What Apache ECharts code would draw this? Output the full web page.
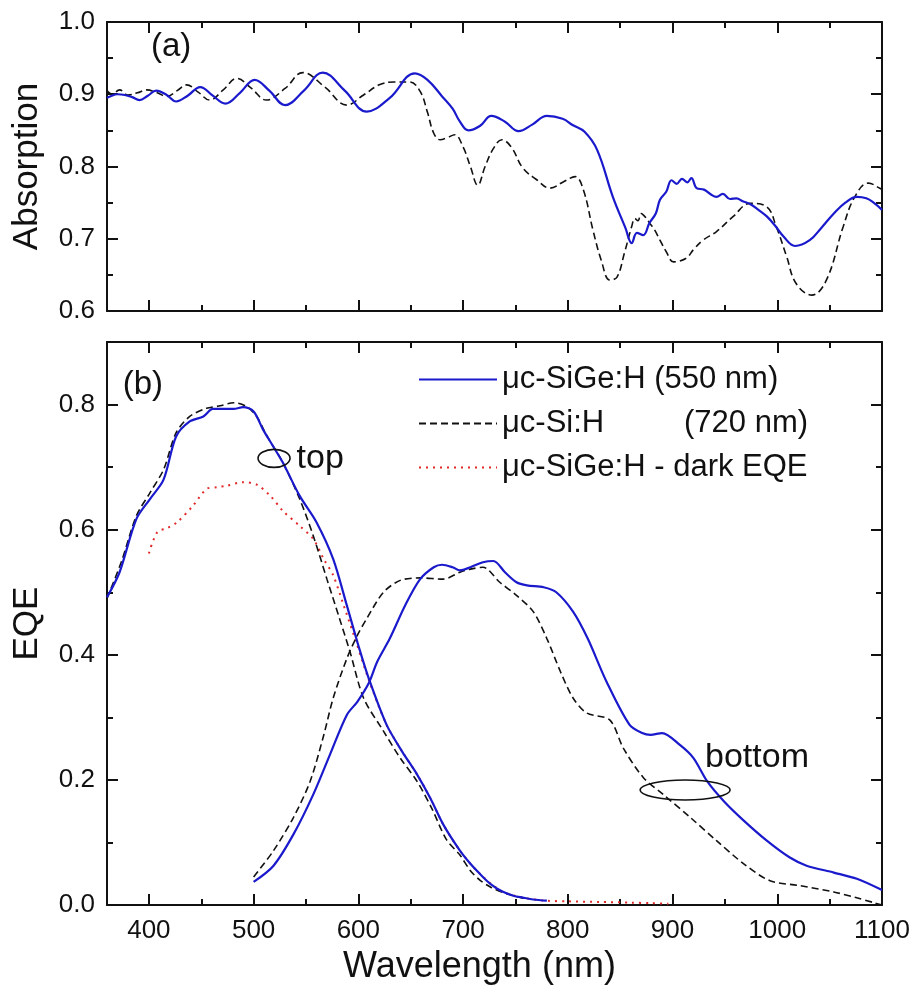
<!DOCTYPE html>
<html><head><meta charset="utf-8">
<script src="https://cdn.jsdelivr.net/npm/echarts@6/dist/echarts.min.js"></script>
<style>html,body{margin:0;padding:0;background:#fff}#c{width:914px;height:990px}</style>
</head><body><div id="c"></div>
<script>
// ---------- Panel (a): absorption ----------
const absWlSiGe = [360,363,370,377,384,391,399,407,417,426,437,449,461,473,487,501,515,530,548,566,587,608,630,654,666,680,690,697,705,716,727,740,753,766,780,795,805,816,828,843,855,861,866,872,878,884,888,894,899,904,909,914,918,923,930,936,942,948,955,961,967,974,982,990,998,1006,1017,1031,1042,1054,1065,1076,1085,1092,1100];
const absSiGe   = [0.895,0.897,0.900,0.899,0.896,0.892,0.898,0.905,0.899,0.890,0.898,0.910,0.898,0.887,0.902,0.920,0.905,0.885,0.905,0.930,0.905,0.876,0.895,0.929,0.920,0.897,0.880,0.862,0.850,0.856,0.870,0.862,0.849,0.858,0.870,0.866,0.857,0.848,0.823,0.758,0.715,0.694,0.708,0.705,0.722,0.735,0.754,0.765,0.781,0.776,0.783,0.778,0.784,0.770,0.768,0.762,0.758,0.762,0.755,0.756,0.752,0.748,0.740,0.731,0.718,0.703,0.690,0.698,0.715,0.735,0.750,0.758,0.756,0.750,0.740];
const absWlSi = [360,365,372,380,389,398,408,417,427,436,447,458,471,484,498,512,530,547,568,589,605,620,634,649,659,666,672,678,685,692,700,707,714,721,729,737,746,757,770,783,796,807,815,824,832,840,847,854,861,864,867,870,874,878,883,888,894,901,913,920,929,942,958,974,990,999,1009,1018,1033,1047,1063,1074,1087,1098,1100];
const absSi   = [0.905,0.900,0.906,0.899,0.902,0.906,0.902,0.897,0.905,0.913,0.903,0.892,0.906,0.922,0.908,0.892,0.908,0.930,0.910,0.885,0.899,0.913,0.917,0.917,0.904,0.875,0.846,0.837,0.840,0.844,0.827,0.800,0.774,0.800,0.825,0.837,0.827,0.798,0.782,0.770,0.779,0.786,0.767,0.712,0.670,0.643,0.647,0.680,0.717,0.728,0.725,0.735,0.730,0.722,0.712,0.698,0.682,0.668,0.673,0.685,0.698,0.710,0.731,0.749,0.744,0.717,0.675,0.638,0.622,0.643,0.717,0.758,0.777,0.770,0.768];

// ---------- Panel (b): EQE ----------
const eqeWlTopSiGe = [360,372,388,401,414,426,439,452,461,470,481,490,500,509,518,528,544,560,576,589,600,610,627,642,656,669,681,697,707,716,726,737,748,757,767,780];
const eqeTopSiGe   = [0.492,0.532,0.617,0.649,0.680,0.749,0.773,0.781,0.793,0.793,0.793,0.796,0.789,0.760,0.735,0.707,0.654,0.612,0.553,0.479,0.415,0.362,0.288,0.245,0.209,0.170,0.129,0.087,0.066,0.050,0.034,0.022,0.015,0.012,0.009,0.007];
const eqeWlBotSiGe = [500,519,538,557,573,589,599,610,618,630,645,659,672,680,690,697,707,719,729,740,751,761,777,789,805,819,837,859,871,879,890,907,920,933,949,968,990,1012,1028,1054,1076,1100];
const eqeBotSiGe   = [0.037,0.063,0.113,0.177,0.241,0.304,0.325,0.355,0.389,0.426,0.480,0.521,0.540,0.544,0.540,0.535,0.540,0.548,0.550,0.532,0.516,0.511,0.508,0.500,0.469,0.426,0.357,0.288,0.275,0.272,0.275,0.256,0.235,0.198,0.166,0.135,0.103,0.076,0.063,0.052,0.042,0.024];
const eqeWlTopSi = [360,374,388,401,414,426,439,455,468,481,493,503,512,528,544,557,570,582,592,605,624,640,656,670,684,697,707,716,726,742,760];
const eqeTopSi   = [0.490,0.550,0.622,0.659,0.696,0.755,0.781,0.794,0.798,0.803,0.797,0.781,0.752,0.707,0.649,0.590,0.521,0.458,0.405,0.331,0.278,0.235,0.198,0.155,0.105,0.080,0.055,0.040,0.029,0.018,0.010];
const eqeWlBotSi = [500,519,538,554,567,576,589,599,608,624,640,659,681,697,707,719,735,751,767,780,793,805,818,840,853,872,891,917,942,968,993,1022,1054,1075,1092,1100];
const eqeBotSi   = [0.045,0.087,0.140,0.198,0.272,0.331,0.394,0.431,0.458,0.500,0.519,0.523,0.521,0.532,0.537,0.540,0.516,0.495,0.469,0.426,0.373,0.331,0.307,0.296,0.251,0.204,0.177,0.140,0.103,0.066,0.039,0.031,0.021,0.012,0.004,0.000];
const eqeWlDark = [400,408,418,427,442,455,465,474,490,503,516,528,544,557,567,576,586,596,610,627,642,656,669,681,697,716,737,757,780,800,830,860,880,896];
const eqeDark   = [0.562,0.596,0.603,0.612,0.638,0.665,0.668,0.670,0.676,0.672,0.654,0.630,0.606,0.585,0.553,0.527,0.479,0.430,0.360,0.288,0.245,0.209,0.170,0.129,0.087,0.050,0.022,0.012,0.007,0.006,0.005,0.004,0.003,0.002];

const legendNames = ['μc-SiGe:H (550 nm)', 'μc-Si:H (720 nm)', 'μc-SiGe:H - dark EQE'];
const absTickLabels = [0.6, 0.7, 0.8, 0.9, 1.0];
const eqeTickLabels = [0.0, 0.2, 0.4, 0.6, 0.8];
const wlTickLabels = [400, 500, 600, 700, 800, 900, 1000, 1100];

const zip = (xs, ys) => xs.map((x, i) => [x, ys[i]]);
const FONT = "'Liberation Sans', Arial, Helvetica, sans-serif";
const BLUE = '#1a1acc', BLACK = '#111111', RED = '#e02828';

function xAxisDef(grid, pos, labels) {
  return {
    type: 'value', gridIndex: grid, position: pos, min: 360, max: 1100, splitNumber: 7,
    axisLine: { show: true, onZero: false, lineStyle: { color: '#111', width: 2 } },
    axisTick: { show: true, inside: true, length: 11, lineStyle: { color: '#111', width: 2 } },
    minorTick: { show: true, splitNumber: 2, length: 6, lineStyle: { color: '#111', width: 2 } },
    splitLine: { show: false },
    axisLabel: { show: labels, showMinLabel: false, fontSize: 26, color: '#111', fontFamily: FONT, margin: 13,
      formatter: v => wlTickLabels.includes(Math.round(v)) ? String(Math.round(v)) : '' },
    name: labels ? 'Wavelength (nm)' : '', nameLocation: 'middle', nameGap: 37,
    nameTextStyle: { fontSize: 36, color: '#111', fontFamily: FONT, padding: [0, 30, 0, 0] }
  };
}
function yAxisDef(grid, pos, min, max, interval, labels, name) {
  return {
    type: 'value', gridIndex: grid, position: pos, min: min, max: max, interval: interval,
    axisLine: { show: true, onZero: false, lineStyle: { color: '#111', width: 2 } },
    axisTick: { show: true, inside: true, length: 11, lineStyle: { color: '#111', width: 2 } },
    minorTick: { show: true, splitNumber: 2, length: 6, lineStyle: { color: '#111', width: 2 } },
    splitLine: { show: false },
    axisLabel: { show: labels, showMaxLabel: max === 1.0, fontSize: 26, color: '#111', fontFamily: FONT, margin: 12,
      formatter: v => (+v).toFixed(1) },
    name: labels ? name : '', nameLocation: 'middle', nameGap: 62,
    nameTextStyle: { fontSize: 35, color: '#111', fontFamily: FONT }
  };
}
function lineSeries(name, data, xi, yi, color, type, width, smooth, z) {
  return {
    name: name, type: 'line', xAxisIndex: xi, yAxisIndex: yi, data: data,
    showSymbol: false, symbol: 'none', smooth: smooth, z: z,
    lineStyle: { color: color, width: width, type: type }, itemStyle: { color: color },
    emphasis: { disabled: true }
  };
}

const chart = echarts.init(document.getElementById('c'), null, { renderer: 'canvas' });
chart.setOption({
  animation: false,
  backgroundColor: '#fff',
  grid: [
    { left: 107, top: 22, width: 775, height: 289 },
    { left: 107, top: 342, width: 775, height: 566 }
  ],
  xAxis: [ xAxisDef(0, 'bottom', false), xAxisDef(0, 'top', false), xAxisDef(1, 'bottom', true), xAxisDef(1, 'top', false) ],
  yAxis: [ yAxisDef(0, 'left', 0.6, 1.0, 0.1, true, 'Absorption'), yAxisDef(0, 'right', 0.6, 1.0, 0.1, false, ''),
           yAxisDef(1, 'left', 0, 0.9, 0.2, true, 'EQE'), yAxisDef(1, 'right', 0, 0.9, 0.2, false, '') ],
  legend: {
    data: legendNames, orient: 'vertical', left: 418, top: 363, padding: 0,
    itemWidth: 78, itemHeight: 14, itemGap: 11,
    selectedMode: false,
    itemStyle: { opacity: 0 },
    textStyle: { fontSize: 31, color: '#111', fontFamily: FONT, lineHeight: 33,
      rich: { n: { width: 182, fontSize: 31, color: '#111', fontFamily: FONT } } },
    formatter: name => name === 'μc-Si:H (720 nm)' ? '{n|μc-Si:H}(720 nm)' : name
  },
  series: [
    lineSeries('absSi', zip(absWlSi, absSi), 0, 0, BLACK, [7, 4], 1.6, 0.4, 2),
    lineSeries('absSiGe', zip(absWlSiGe, absSiGe), 0, 0, BLUE, 'solid', 2.2, 0.4, 3),
    lineSeries(legendNames[2], zip(eqeWlDark, eqeDark), 2, 2, RED, [2, 5], 2, 0.3, 1),
    lineSeries(legendNames[1], zip(eqeWlTopSi, eqeTopSi), 2, 2, BLACK, [7, 4], 1.6, 0.3, 2),
    lineSeries(legendNames[1], zip(eqeWlBotSi, eqeBotSi), 2, 2, BLACK, [7, 4], 1.6, 0.3, 2),
    lineSeries(legendNames[0], zip(eqeWlTopSiGe, eqeTopSiGe), 2, 2, BLUE, 'solid', 2.2, 0.3, 3),
    lineSeries(legendNames[0], zip(eqeWlBotSiGe, eqeBotSiGe), 2, 2, BLUE, 'solid', 2.2, 0.3, 3)
  ]
});

// annotations anchored in data coordinates
const p = (g, pt) => chart.convertToPixel({ gridIndex: g }, pt);
const topC = p(1, [519.5, 0.714]), botC = p(1, [912, 0.184]);
const topT = p(1, [541, 0.713]), botT = p(1, [931, 0.235]);
const aPos = p(0, [402, 0.965]), bPos = p(1, [375, 0.832]);
const txt = (pos, s, size) => ({ type: 'text', x: pos[0], y: pos[1],
  style: { text: s, fontSize: size, fontFamily: FONT, fill: '#111', verticalAlign: 'middle', align: 'left' }, z: 10 });
chart.setOption({
  graphic: [
    { type: 'ellipse', shape: { cx: topC[0], cy: topC[1], rx: 16, ry: 9 }, style: { fill: 'none', stroke: '#111', lineWidth: 1.6 }, z: 10 },
    { type: 'ellipse', shape: { cx: botC[0], cy: botC[1], rx: 45, ry: 10 }, style: { fill: 'none', stroke: '#111', lineWidth: 1.6 }, z: 10 },
    txt(topT, 'top', 34), txt(botT, 'bottom', 34), txt(aPos, '(a)', 33), txt(bPos, '(b)', 33)
  ]
});
</script></body></html>
